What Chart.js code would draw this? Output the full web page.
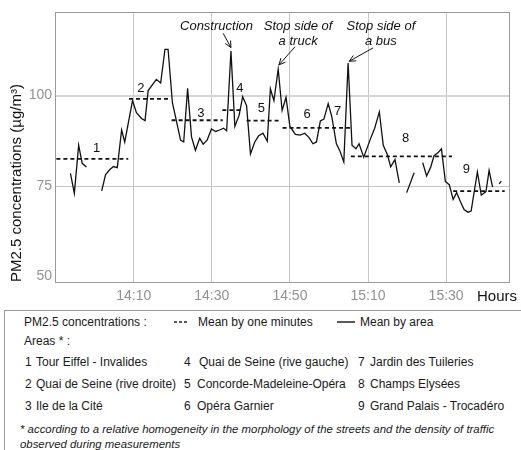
<!DOCTYPE html>
<html><head><meta charset="utf-8">
<script src="https://cdn.jsdelivr.net/npm/chart.js@4/dist/chart.umd.min.js"></script>
<style>
html,body{margin:0;padding:0;background:#fff;width:521px;height:450px;overflow:hidden;font-family:"Liberation Sans",Arial,sans-serif;}
#wrap{position:absolute;left:0;top:0;width:521px;height:310px;}
#box{position:absolute;left:4px;top:310px;width:600px;height:200px;border-left:1px solid #9a9a9a;border-top:1px solid #9a9a9a;}
.t{position:absolute;font-size:12px;line-height:16px;height:16px;color:#1a1a1a;white-space:nowrap;}
.f{font-style:italic;font-size:11.4px;}
.hours{position:absolute;left:477px;top:287px;font-size:15px;line-height:18px;color:#111;}
svg{position:absolute;}
</style></head><body>
<div id="wrap"><canvas id="c"></canvas></div>
<div class="hours">Hours</div>
<div id="box"></div>
<div id="lg"></div>
<script>
// ---- data ----
const tickMinutes = [20, 40, 60, 80, 100];           // minutes after 13:50
const tickLabels = ['14:10', '14:30', '14:50', '15:10', '15:30'];
const yTicks = [50, 75, 100];

const minuteTimes = [
 3.8,4.8,5.9,6.8,7.9, 9.9,
 11.8,12.8,13.9,14.8,15.8,16.9,17.7,19.7,20.7,22.0,22.9,23.7,25.0,25.8,26.9,28.0,28.8,29.9,32.0,32.8,
 33.8,34.8,35.8,36.9,37.8,38.8,39.9,41.0,42.0,43.0,43.8,44.9,45.9,47.0,47.9,48.9,49.9,51.0,52.0,53.1,
 54.2,55.0,55.9,57.0,58.0,59.0,60.0,61.4,62.6,63.8,64.9,65.9,66.8,67.8,68.7,69.8,70.7,71.9,72.8,73.8,
 74.9,75.9,76.9,77.7,78.9,80.5,81.7,82.9,83.9,85.0,85.8,86.9,88.0, 89.0,
 89.9,91.8, 93.0,
 94.0,95.0,96.0,96.9,97.9,98.8,99.8,100.8,101.8,102.7,103.7,104.6,105.6,106.4,108.0,109.0,110.2,111.0,111.9, 112.8,
 113.6,114.1
];
const minuteValues = [
 78.5,73.0,86.3,81.3,80.3, null,
 73.7,78.2,79.6,80.4,80.1,90.5,87.2,98.6,95.3,93.7,93.1,101.4,103.3,104.5,103.5,112.8,112.8,98.1,87.7,87.2,
 102.0,88.6,84.9,88.2,86.6,87.7,90.8,90.1,90.5,91.0,90.3,112.3,91.5,94.6,99.7,97.2,83.9,87.2,88.9,89.6,
 87.4,101.9,98.6,107.3,95.9,99.5,91.5,89.3,89.1,89.6,88.4,86.7,87.2,93.0,93.5,97.8,94.3,86.7,84.7,81.7,
 109.0,86.3,85.3,86.7,83.0,87.7,91.0,95.5,86.3,83.6,80.3,82.3,75.9, null,
 73.2,78.7, null,
 81.5,77.8,80.1,83.4,84.2,85.3,76.3,75.4,71.3,73.2,70.6,68.5,67.8,68.1,78.9,72.5,73.5,79.3,74.7, null,
 75.6,76.4
];

const areaNames = ['1','2','3','4','5','6','7','8','9'];
const areaStart = [0.2, 18.8, 29.7, 42.7, 48.9, 58.1, 69.0, 75.6, 101.8];
const areaEnd   = [18.6, 29.3, 42.8, 48.0, 57.4, 68.9, 75.8, 101.5, 115.0];
const areaMean  = [82.5, 99.1, 93.2, 96.0, 93.1, 91.1, 91.1, 83.2, 73.6];
const areaLabelTimes  = [10.5, 21.8, 37.2, 47.2, 52.7, 64.4, 72.2, 89.6, 105.2];
const areaLabelValues = [85.4, 102.0, 95.2, 102.0, 96.4, 94.7, 95.6, 88.3, 79.7];

const noteLines = [['Construction'], ['Stop side of', 'a truck'], ['Stop side of', 'a bus']];
const noteTimes  = [41.2, 62.1, 83.3];
const noteValues = [119.0, 119.0, 119.0];
const arrowFromT = [42.9, 61.3, 81.3];
const arrowFromV = [117.2, 113.5, 113.2];
const arrowToT   = [44.9, 57.2, 75.2];
const arrowToV   = [113.3, 108.5, 109.5];

// ---- build datasets ----
const minuteData = minuteTimes.map((t, i) => ({x: t, y: minuteValues[i]}));
const areaData = [];
areaStart.forEach((s, i) => {
  areaData.push({x: s, y: areaMean[i]});
  areaData.push({x: areaEnd[i], y: areaMean[i]});
  areaData.push({x: areaEnd[i] + 0.05, y: null});
});

const FONT = '"Liberation Sans", Arial, sans-serif';
Chart.defaults.font.family = FONT;

const framePlugin = {
  id: 'frame',
  beforeDatasetsDraw(chart) {
    const {ctx, chartArea: a} = chart;
    ctx.save();
    ctx.strokeStyle = '#9a9a9a';
    ctx.lineWidth = 1;
    ctx.strokeRect(Math.round(a.left) - 0.5, Math.round(a.top) + 0.5, Math.round(a.right - a.left) + 1, Math.round(a.bottom - a.top));
    ctx.restore();
  }
};

const notesPlugin = {
  id: 'notes',
  afterDatasetsDraw(chart) {
    const {ctx} = chart;
    const xs = chart.scales.x, ys = chart.scales.y;
    ctx.save();
    ctx.fillStyle = '#111';
    ctx.textAlign = 'center';
    ctx.textBaseline = 'middle';
    ctx.font = '13px ' + FONT;
    areaNames.forEach((n, i) => {
      ctx.fillText(n, xs.getPixelForValue(areaLabelTimes[i]), ys.getPixelForValue(areaLabelValues[i]));
    });
    ctx.font = 'italic 13px ' + FONT;
    noteLines.forEach((lines, i) => {
      const x = xs.getPixelForValue(noteTimes[i]);
      const y = ys.getPixelForValue(noteValues[i]);
      lines.forEach((l, j) => ctx.fillText(l, x, y + j * 15));
      const x1 = xs.getPixelForValue(arrowFromT[i]), y1 = ys.getPixelForValue(arrowFromV[i]);
      const x2 = xs.getPixelForValue(arrowToT[i]), y2 = ys.getPixelForValue(arrowToV[i]);
      ctx.strokeStyle = '#111';
      ctx.lineWidth = 1;
      ctx.beginPath();
      ctx.moveTo(x1, y1); ctx.lineTo(x2, y2);
      const ang = Math.atan2(y2 - y1, x2 - x1);
      const L = 7, w = 0.45;
      ctx.moveTo(x2, y2); ctx.lineTo(x2 - L * Math.cos(ang - w), y2 - L * Math.sin(ang - w));
      ctx.moveTo(x2, y2); ctx.lineTo(x2 - L * Math.cos(ang + w), y2 - L * Math.sin(ang + w));
      ctx.stroke();
    });
    ctx.restore();
  }
};

new Chart(document.getElementById('c'), {
  type: 'line',
  data: {
    datasets: [
      {label: 'Mean by one minutes', data: minuteData, borderColor: '#111', borderWidth: 1.3,
       pointRadius: 0, spanGaps: false, tension: 0, fill: false},
      {label: 'Mean by area', data: areaData, borderColor: '#111', borderWidth: 1.8, borderDash: [4, 3],
       pointRadius: 0, spanGaps: false, tension: 0, fill: false}
    ]
  },
  options: {
    responsive: true, maintainAspectRatio: false, animation: false,
    layout: {padding: {left: 0, right: 12, top: 12, bottom: 0}},
    plugins: {legend: {display: false}, tooltip: {enabled: false}},
    scales: {
      x: {
        type: 'linear', min: 0.1, max: 116.1,
        afterBuildTicks: s => { s.ticks = tickMinutes.map(v => ({value: v})); },
        afterFit: s => { s.height = 28; },
        ticks: {callback: v => tickLabels[tickMinutes.indexOf(v)], color: '#929292',
                font: {size: 14}, padding: 6, maxRotation: 0, autoSkip: false},
        grid: {color: '#c6c6c6', lineWidth: 1, drawTicks: false},
        border: {display: false}
      },
      y: {
        min: 48.5, max: 123,
        afterBuildTicks: s => { s.ticks = yTicks.map(v => ({value: v})); },
        afterFit: s => { s.width = 56; },
        ticks: {color: '#929292', font: {size: 14}, padding: 4},
        grid: {
          color: c => c.tick && c.tick.value === 100 ? '#d4d4d4' : (c.tick && c.tick.value === 75 ? '#c6c6c6' : 'rgba(0,0,0,0)'),
          lineWidth: c => c.tick && c.tick.value === 100 ? 2 : 1,
          drawTicks: false
        },
        border: {display: false},
        title: {display: true, text: 'PM2.5 concentrations (µg/m³)', align: 'start', color: '#111',
                font: {size: 15}, padding: {top: 8, bottom: 0}}
      }
    }
  },
  plugins: [framePlugin, notesPlugin]
});

// ---- legend (HTML text) ----
const legendItems = [
  ['PM2.5 concentrations :', 24, 322, ''],
  ['Mean by one minutes', 198, 322, ''],
  ['Mean by area', 360, 322, ''],
  ['Areas * :', 24, 341, ''],
  ['1', 25, 362, ''], ['Tour Eiffel - Invalides', 36, 362, ''],
  ['4', 184, 362, ''], ['Quai de Seine (rive gauche)', 199, 362, ''],
  ['7', 358, 362, ''], ['Jardin des Tuileries', 370, 362, ''],
  ['2', 25, 384, ''], ['Quai de Seine (rive droite)', 36, 384, ''],
  ['5', 184, 384, ''], ['Concorde-Madeleine-Opéra', 197, 384, ''],
  ['8', 358, 384, ''], ['Champs Elysées', 370, 384, ''],
  ['3', 25, 406, ''], ['Ile de la Cité', 36, 406, ''],
  ['6', 184, 406, ''], ['Opéra Garnier', 197, 406, ''],
  ['9', 358, 406, ''], ['Grand Palais - Trocadéro', 370, 406, ''],
  ['* according to a relative homogeneity in the morphology of the streets and the density of traffic', 20, 429, 'f'],
  ['observed during measurements', 20, 444, 'f']
];
const lg = document.getElementById('lg');
legendItems.forEach(([txt, x, y, cls]) => {
  const d = document.createElement('div');
  d.className = 't ' + cls;
  d.textContent = txt;
  d.style.left = x + 'px';
  d.style.top = (y - 8) + 'px';
  lg.appendChild(d);
});
lg.insertAdjacentHTML('beforeend',
  '<svg style="left:174px;top:318px" width="16" height="8"><line x1="0" y1="4" x2="14" y2="4" stroke="#222" stroke-width="1.5" stroke-dasharray="3,2"/></svg>' +
  '<svg style="left:337px;top:318px" width="20" height="8"><line x1="0" y1="4" x2="18" y2="4" stroke="#222" stroke-width="1.5"/></svg>');
</script>
</body></html>
